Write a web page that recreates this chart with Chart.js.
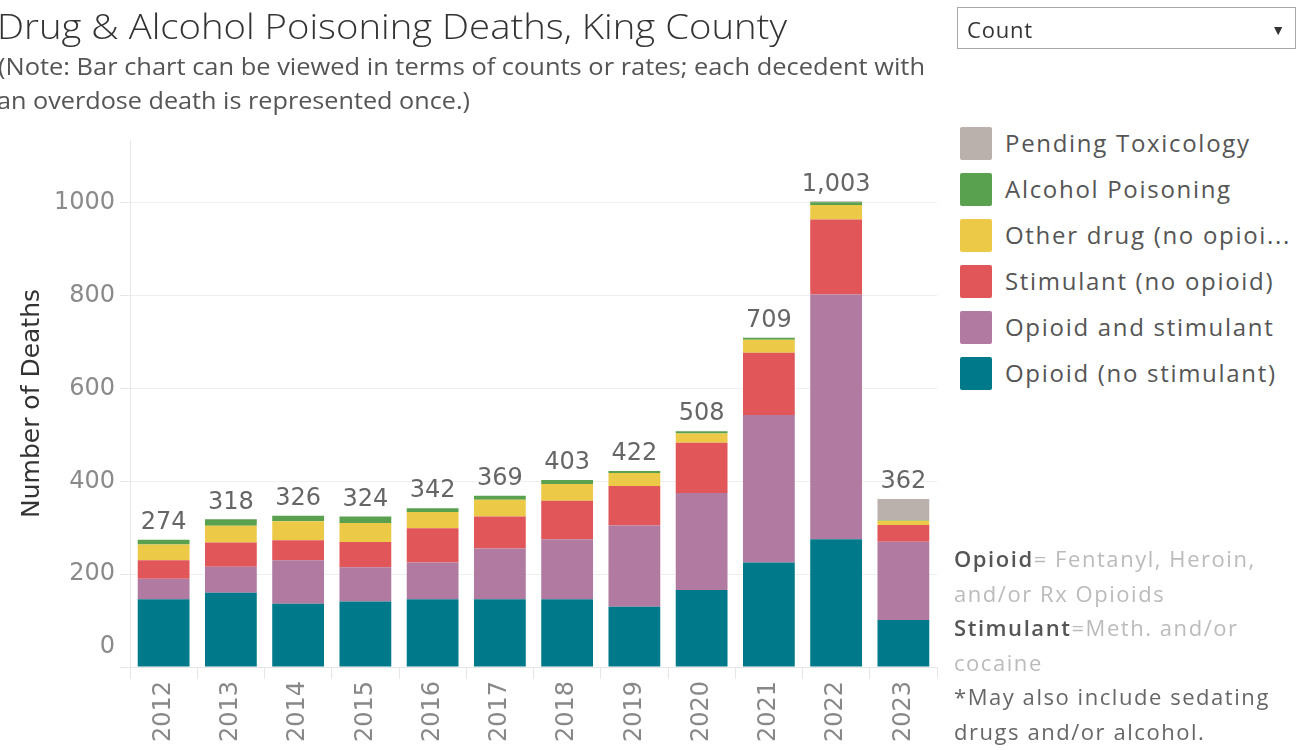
<!DOCTYPE html>
<html><head><meta charset="utf-8">
<script src="https://cdn.jsdelivr.net/npm/chart.js@4"></script>
<style>
html,body{margin:0;padding:0;background:#fff;width:1301px;height:750px;overflow:hidden;font-family:"Open Sans",sans-serif;}
#wrap{position:absolute;left:0;top:0;width:960px;height:750px;}
.txt{position:absolute;white-space:nowrap;transform-origin:0 0;}
#title{left:-3px;top:2px;font-size:35px;color:#333;font-family:"Open Sans";font-weight:300;}
#sub1{left:-2px;top:50px;font-size:23px;color:#555;}
#sub2{left:-3px;top:84px;font-size:23px;color:#555;}
#dd{position:absolute;left:957px;top:7px;width:339px;height:42px;border:1px solid #a8a8a8;box-sizing:border-box;}
#dd span{position:absolute;left:9px;top:6px;font-size:22px;color:#333;letter-spacing:0.8px;}
#dd i{position:absolute;right:10px;top:12px;font-style:normal;font-size:14px;color:#333;}
#legend{position:absolute;left:960px;top:127px;}
.li{position:relative;height:46px;}
.li b{position:absolute;left:0;top:0;width:32px;height:33px;border-radius:2px;}
.li span{position:absolute;left:45px;top:-1px;font-size:24px;color:#555;white-space:nowrap;letter-spacing:1.7px;}
#notes{position:absolute;left:954px;top:541px;font-size:22px;line-height:34.6px;color:#bbb;white-space:nowrap;letter-spacing:1.55px;}
#notes b{color:#555;font-weight:600;}
#notes .d{color:#666;}
</style></head><body>
<div id="wrap"><canvas id="c" width="960" height="750"></canvas></div>
<div id="title" class="txt">Drug &amp; Alcohol Poisoning Deaths, King County</div>
<div id="sub1" class="txt">(Note: Bar chart can be viewed in terms of counts or rates; each decedent with</div>
<div id="sub2" class="txt">an overdose death is represented once.)</div>
<div id="dd"><span>Count</span><i>&#9660;</i></div>
<div id="legend"></div>
<div id="notes"><b>Opioid</b>= Fentanyl, Heroin,<br>and/or Rx Opioids<br><b>Stimulant</b>=Meth. and/or<br>cocaine<br><span class="d">*May also include sedating<br>drugs and/or alcohol.</span></div>
<script>
const years = ["2012","2013","2014","2015","2016","2017","2018","2019","2020","2021","2022","2023"];
const opioidNoStim   = [146,160,136,141,146,146,146,130,166,225,275,101];
const opioidAndStim  = [ 44, 56, 94, 74, 79,109,129,175,209,318,527,169];
const stimNoOpioid   = [ 40, 52, 43, 54, 74, 69, 83, 85,108,134,162, 36];
const otherDrug      = [ 34, 36, 41, 41, 35, 36, 36, 28, 20, 28, 31,  9];
const alcohol        = [ 10, 14, 12, 14,  8,  9,  9,  4,  5,  4,  6,  1];
const pending        = [  0,  0,  0,  0,  0,  0,  0,  0,  0,  0,  2, 46];
const totals         = [274,318,326,324,342,369,403,422,508,709,1003,362];
const yTicks = [0,200,400,600,800,1000];

const seriesNames = ["Opioid (no stimulant)","Opioid and stimulant","Stimulant (no opioid)","Other drug (no opioi...","Alcohol Poisoning","Pending Toxicology"];
const seriesColors = ["#007A8A","#B07AA1","#E15759","#EDC948","#59A14F","#BAB0AC"];
const seriesData = [opioidNoStim,opioidAndStim,stimNoOpioid,otherDrug,alcohol,pending];

const lg = document.getElementById('legend');
for (let i = seriesNames.length-1; i >= 0; i--) {
  const d = document.createElement('div'); d.className='li';
  d.innerHTML = '<b style="background:'+seriesColors[i]+'"></b><span>'+seriesNames[i]+'</span>';
  lg.appendChild(d);
}
function fit(id,w){const e=document.getElementById(id);const r=e.getBoundingClientRect().width;e.style.transform='scaleX('+(w/r)+')';}
fit('title',790); fit('sub1',927); fit('sub2',473);

const NUMFONT = '"DejaVu Sans"';
const totalsPlugin = {
  id:'totals',
  afterDatasetsDraw(chart){
    const {ctx, scales:{x,y}} = chart;
    ctx.save();
    ctx.font = '24px ' + NUMFONT;
    ctx.fillStyle = '#666';
    ctx.textAlign='center'; ctx.textBaseline='bottom';
    totals.forEach((t,i)=>{
      ctx.fillText(t.toLocaleString('en-US'), x.getPixelForValue(i), y.getPixelForValue(t)-5);
    });
    ctx.font = '24px ' + NUMFONT;
    ctx.fillStyle = '#8a8a8a';
    ctx.textAlign='right'; ctx.textBaseline='middle';
    ctx.fillText('0', y.right - 15, y.getPixelForValue(0) - 20);
    ctx.restore();
  }
};

new Chart(document.getElementById('c'), {
  type:'bar',
  data:{
    labels: years,
    datasets: seriesData.map((d,i)=>({label:seriesNames[i],data:d,backgroundColor:seriesColors[i],borderWidth:0,barPercentage:0.77,categoryPercentage:1}))
  },
  options:{
    responsive:false, animation:false,
    layout:{padding:{top:140,right:23,left:0,bottom:0}},
    plugins:{legend:{display:false},tooltip:{enabled:false}},
    scales:{
      x:{stacked:true,
        grid:{display:true,drawOnChartArea:false,offset:true,color:'#e6e6e6',tickLength:12},
        border:{display:true,color:'#e6e6e6'},
        ticks:{minRotation:90,maxRotation:90,color:'#888',font:{family:'DejaVu Sans',size:24},padding:2},
        afterFit(s){s.height=83;}
      },
      y:{stacked:true,min:0,max:1135,
        afterBuildTicks(s){s.ticks=yTicks.map(v=>({value:v}));},
        grid:{color:'#efefef',tickLength:10,tickColor:'#e6e6e6'},
        border:{display:true,color:'#e6e6e6'},
        ticks:{color:'#8a8a8a',font:{family:'DejaVu Sans',size:24},padding:5,callback:v=>(v===0?'':String(v))},
        title:{display:true,text:'Number of Deaths',color:'#333',font:{family:'DejaVu Sans',size:25},padding:{top:17}},
        afterFit(s){s.width=130;}
      }
    }
  },
  plugins:[totalsPlugin]
});
</script>
</body></html>
